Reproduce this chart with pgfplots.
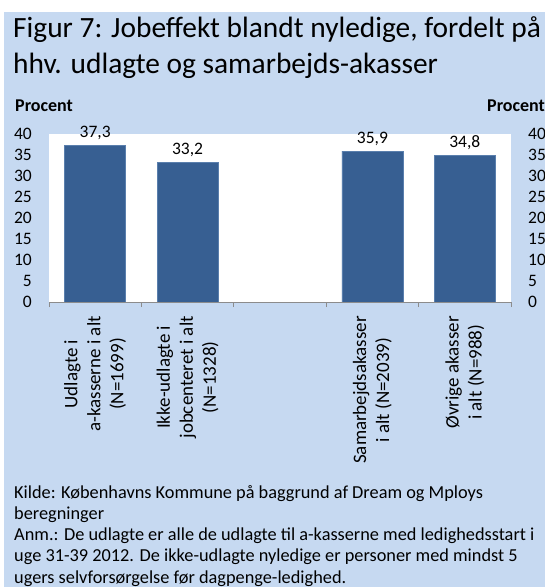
\documentclass[border=0pt]{standalone}
\usepackage{fontspec}
\setmainfont{Carlito}
\usepackage{pgfplots}
\pgfplotsset{compat=1.18}
\definecolor{bgblue}{HTML}{C6D9F1}
\definecolor{barfill}{HTML}{375F92}
\definecolor{baredge}{HTML}{5A7FAD}
\definecolor{axgray}{HTML}{8C8C8C}
\newcommand{\fs}[2]{\fontsize{#1bp}{#2bp}\selectfont}

\begin{document}
\begin{tikzpicture}[x=1bp,y=1bp]
\useasboundingbox (0,0) rectangle (545,-587);
\fill[white] (0,0) rectangle (545,-587);
\fill[bgblue] (4,-12) rectangle (545,-587);

% title (base anchor of a multi-line node is its last line)
\node[anchor=base west, inner sep=0, align=left, font=\fs{29.4}{36}] at (13,-74)
  {Figur 7: Jobeffekt blandt nyledige, fordelt på\\hhv. udlagte og samarbejds-akasser};

% axis captions
\node[anchor=base west, inner sep=0, font=\fs{18}{20}\bfseries] at (15,-111.7) {Procent};
\node[anchor=base west, inner sep=0, font=\fs{18}{20}\bfseries] at (487,-111.7) {Procent};

\begin{axis}[
  at={(49bp,-302bp)}, anchor=south west,
  scale only axis, width=462bp, height=168bp,
  xmin=-0.5, xmax=4.5, ymin=0, ymax=40,
  ytick={0,5,...,40},
  xtick={-0.5,0.5,...,4.5},
  x tick label as interval,
  xticklabels={{Udlagte i\\a-kasserne i alt\\(N=1699)},
               {Ikke-udlagte i\\jobcenteret i alt\\(N=1328)},
               {},
               {Samarbejdsakasser\\i alt (N=2039)},
               {Øvrige akasser\\i alt (N=988)}},
  xtick pos=bottom, ytick pos=left,
  tick align=outside,
  major tick length=5bp,
  x tick style={axgray, line width=0.8bp},
  y tick style={draw=none},
  axis line style={draw=none},
  axis background/.style={fill=white},
  /pgf/number format/assume math mode=true,
  % labels already sit one tick length out (tick align=outside)
  yticklabel style={font=\fs{17.5}{20}, anchor=east, inner sep=0, xshift=-12bp},
  xticklabel style={yshift=-9bp, rotate=90, font=\fs{19}{23}, anchor=east,
                    align=center, inner sep=0},
  ybar, bar width=61bp,
  nodes near coords,
  nodes near coords style={font=\fs{17.5}{20}, anchor=base, inner sep=0, yshift=8bp,
    /pgf/number format/.cd, fixed, fixed zerofill, precision=1, use comma},
  clip=false,
]
\addplot[fill=barfill, draw=baredge, line width=0.8bp]
  coordinates {(0,37.3) (1,33.2) (3,35.9) (4,34.8)};
\draw[axgray, line width=0.8bp] (rel axis cs:0,0) -- (rel axis cs:1,0);
\end{axis}

% right-hand value axis
\begin{axis}[
  at={(49bp,-302bp)}, anchor=south west,
  scale only axis, width=462bp, height=168bp,
  xmin=-0.5, xmax=4.5, ymin=0, ymax=40,
  ytick={0,5,...,40}, xtick=\empty,
  axis y line*=right, axis x line=none,
  axis line style={draw=none},
  y tick style={draw=none},
  /pgf/number format/assume math mode=true,
  yticklabel style={font=\fs{17.5}{20}, anchor=west, inner sep=0, xshift=17bp},
]
\addplot[draw=none] coordinates {(0,0)};
\end{axis}

% source and note (base anchor = last line)
\node[anchor=base west, inner sep=0, align=left, font=\fs{18.3}{21.25}] at (14,-583)
  {Kilde: Københavns Kommune på baggrund af Dream og Mploys\\
   beregninger\\
   Anm.: De udlagte er alle de udlagte til a-kasserne med ledighedsstart i\\
   uge 31-39 2012. De ikke-udlagte nyledige er personer med mindst 5\\
   ugers selvforsørgelse før dagpenge-ledighed.};
\end{tikzpicture}
\end{document}
